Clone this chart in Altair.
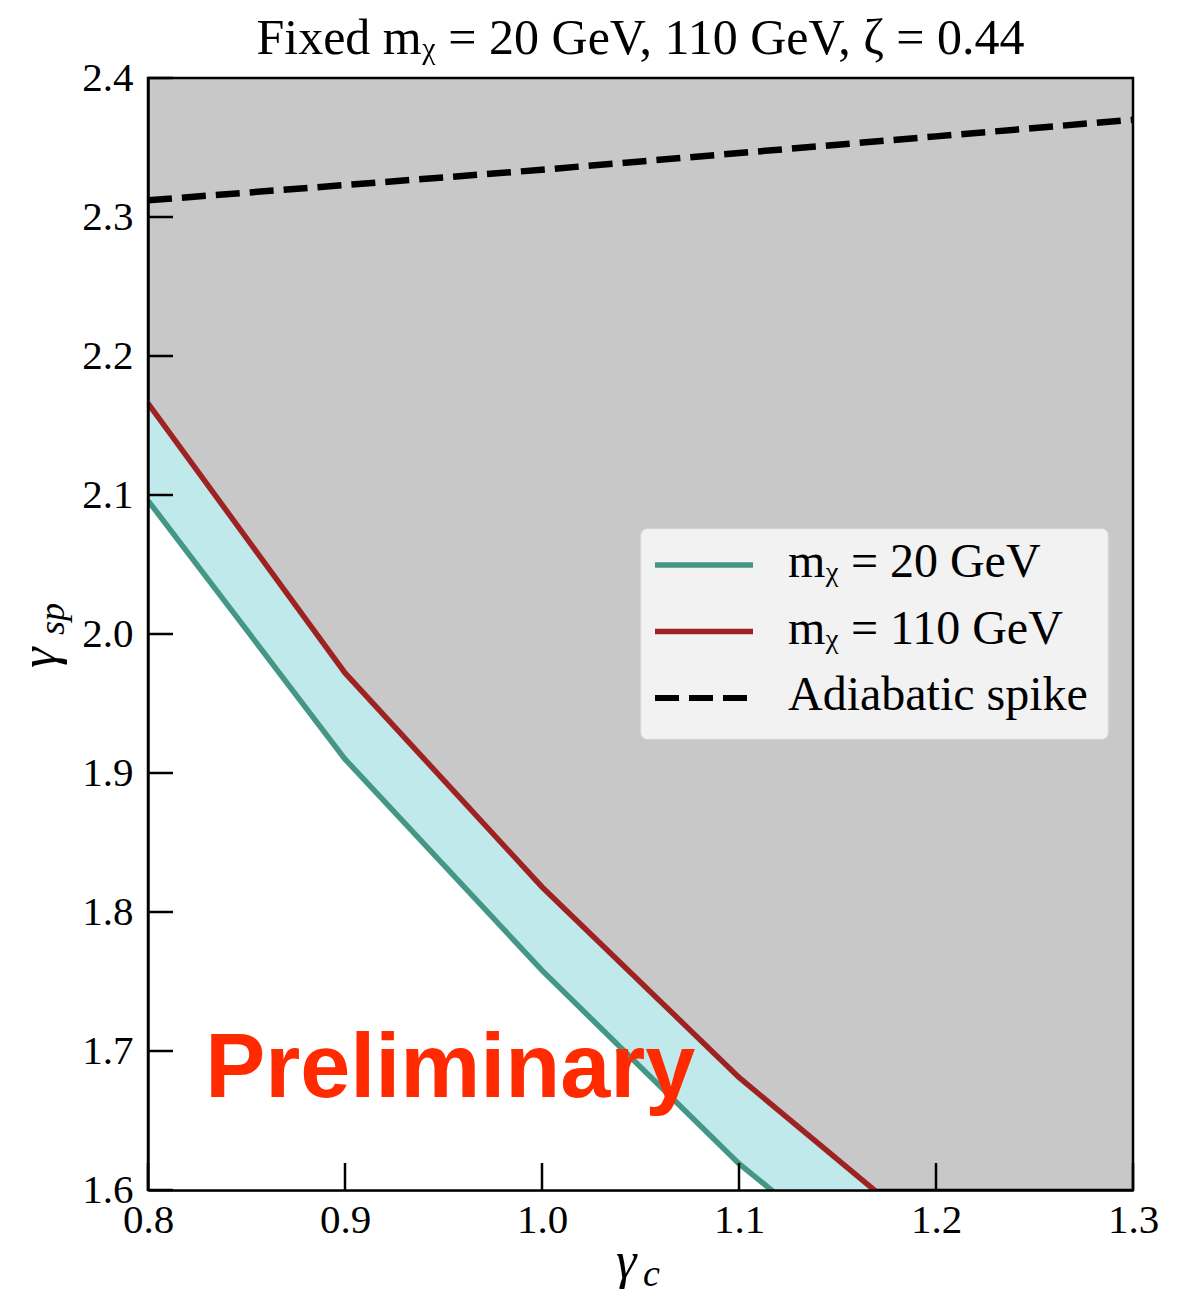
import altair as alt
import pandas as pd

# ---- data ----
gamma_c = [0.8, 0.9, 1.0, 1.1, 1.2]
gamma_sp_20 = [2.096, 1.910, 1.758, 1.619, 1.503]
gamma_sp_110 = [2.166, 1.972, 1.818, 1.681, 1.563]
adiabatic_gc = [0.8, 0.9, 1.0, 1.1, 1.2, 1.3]
adiabatic_gsp = [2.312, 2.323, 2.334, 2.346, 2.358, 2.370]
x_ticks = [0.8, 0.9, 1.0, 1.1, 1.2, 1.3]
y_ticks = [1.6, 1.7, 1.8, 1.9, 2.0, 2.1, 2.2, 2.3, 2.4]
legend_labels = ["m\u1d6a = 20 GeV", "m\u1d6a = 110 GeV", "Adiabatic spike"]
title_text = "Fixed m\u1d6a = 20 GeV, 110 GeV, \u03b6 = 0.44"

TEAL = "#449685"
RED = "#9e2222"
CYAN = "#c0e9ec"
GRAY = "#c8c8c8"
SERIF = "Liberation Serif"

W, H = 985, 1112

band = pd.DataFrame({"x": gamma_c, "lo": gamma_sp_20, "hi": gamma_sp_110})
adi = pd.DataFrame({"x": adiabatic_gc, "y": adiabatic_gsp})
xt = pd.DataFrame({"x": x_ticks})
yt = pd.DataFrame({"y": y_ticks})
one = pd.DataFrame({"k": [0]})

xscale = alt.Scale(domain=[0.8, 1.3], nice=False, zero=False)
yscale = alt.Scale(domain=[1.6, 2.4], nice=False, zero=False)
xaxis = alt.Axis(values=x_ticks, format=".1f", title=None, ticks=False, grid=False,
                 labelFont=SERIF, labelFontSize=41, labelColor="black",
                 labelPadding=10, labelFlush=False, labelOverlap=False,
                 domainColor="black", domainWidth=2.5, zindex=1)
yaxis = alt.Axis(values=y_ticks, format=".1f", title=None, ticks=False, grid=False,
                 labelFont=SERIF, labelFontSize=41, labelColor="black",
                 labelPadding=15, labelFlush=False, labelOverlap=False,
                 domainColor="black", domainWidth=2.5, zindex=1)


def X(f):
    return alt.X(f"{f}:Q", scale=xscale, axis=xaxis, title=None)


def Y(f):
    return alt.Y(f"{f}:Q", scale=yscale, axis=yaxis, title=None)


white = alt.Chart(band).mark_area(color="white", clip=True).encode(
    x=X("x"), y=Y("lo"), y2=alt.datum(1.6))
cyan = alt.Chart(band).mark_area(color=CYAN, clip=True).encode(
    x=X("x"), y=Y("hi"), y2="lo:Q")
teal_line = alt.Chart(band).mark_line(color=TEAL, strokeWidth=5.5, clip=True).encode(
    x=X("x"), y=Y("lo"))
red_line = alt.Chart(band).mark_line(color=RED, strokeWidth=5.5, clip=True).encode(
    x=X("x"), y=Y("hi"))
adi_line = alt.Chart(adi).mark_line(color="black", strokeWidth=6.5, strokeDash=[24, 10],
                                    clip=True).encode(x=X("x"), y=Y("y"))

yticks = alt.Chart(yt).mark_rule(color="black", strokeWidth=2.5).encode(
    y=Y("y"), x=alt.value(0), x2=alt.value(25))
xticks = alt.Chart(xt).mark_rule(color="black", strokeWidth=2.5).encode(
    x=X("x"), y=alt.value(H), y2=alt.value(H - 27))

# legend
leg_box = alt.Chart(one).mark_rect(fill="#f2f2f2", stroke="#e4e4e4", strokeWidth=1,
                                   cornerRadius=6).encode(
    x=alt.value(493), x2=alt.value(960), y=alt.value(451), y2=alt.value(661))
leg_layers = [leg_box]
leg_colors = [TEAL, RED, "black"]
for i, (lab, col) in enumerate(zip(legend_labels, leg_colors)):
    ly = 487 + 66.5 * i
    kw = dict(color=col, strokeWidth=5.5)
    if i == 2:
        kw = dict(color=col, strokeWidth=6, strokeDash=[24, 10])
    leg_layers.append(alt.Chart(one).mark_rule(**kw).encode(
        x=alt.value(507), x2=alt.value(605), y=alt.value(ly)))
    leg_layers.append(alt.Chart(one).mark_text(
        text=lab, font=SERIF, fontSize=48, align="left", baseline="alphabetic",
        color="black").encode(x=alt.value(640), y=alt.value(ly + 12)))

prelim = alt.Chart(one).mark_text(
    text="Preliminary", font="Liberation Sans", fontWeight="bold", fontSize=90,
    color="#ff2a00", align="left", baseline="alphabetic").encode(
    x=alt.datum(0.829, scale=xscale), y=alt.datum(1.667, scale=yscale))

# title
title = alt.Chart(one).mark_text(
    text=title_text, font=SERIF, fontSize=50, align="center", baseline="alphabetic",
    color="black").encode(x=alt.value(W / 2), y=alt.value(-24))

# axis titles (gamma with subscripts)
ytitle_g = alt.Chart(one).mark_text(
    text="\u03b3", font=SERIF, fontStyle="italic", fontSize=52, angle=270,
    align="left", baseline="alphabetic").encode(x=alt.value(-92), y=alt.value(590))
ytitle_s = alt.Chart(one).mark_text(
    text="sp", font=SERIF, fontStyle="italic", fontSize=36, angle=270,
    align="left", baseline="alphabetic").encode(x=alt.value(-84), y=alt.value(557))
xtitle_g = alt.Chart(one).mark_text(
    text="\u03b3", font=SERIF, fontStyle="italic", fontSize=52,
    align="left", baseline="alphabetic").encode(x=alt.value(468), y=alt.value(1200))
xtitle_c = alt.Chart(one).mark_text(
    text="c", font=SERIF, fontStyle="italic", fontSize=38,
    align="left", baseline="alphabetic").encode(x=alt.value(495), y=alt.value(1208))

chart = alt.layer(
    white, cyan, teal_line, red_line, adi_line, yticks, xticks,
    *leg_layers, prelim, title, ytitle_g, ytitle_s, xtitle_g, xtitle_c
).properties(
    width=W, height=H,
    padding={"left": 140, "top": 70, "right": 40, "bottom": 110},
    autosize=alt.AutoSizeParams(type="none"),
).configure_view(fill=GRAY, stroke="black", strokeWidth=2.5)

chart.save("out.html", embed_options={"renderer": "svg", "actions": False})
